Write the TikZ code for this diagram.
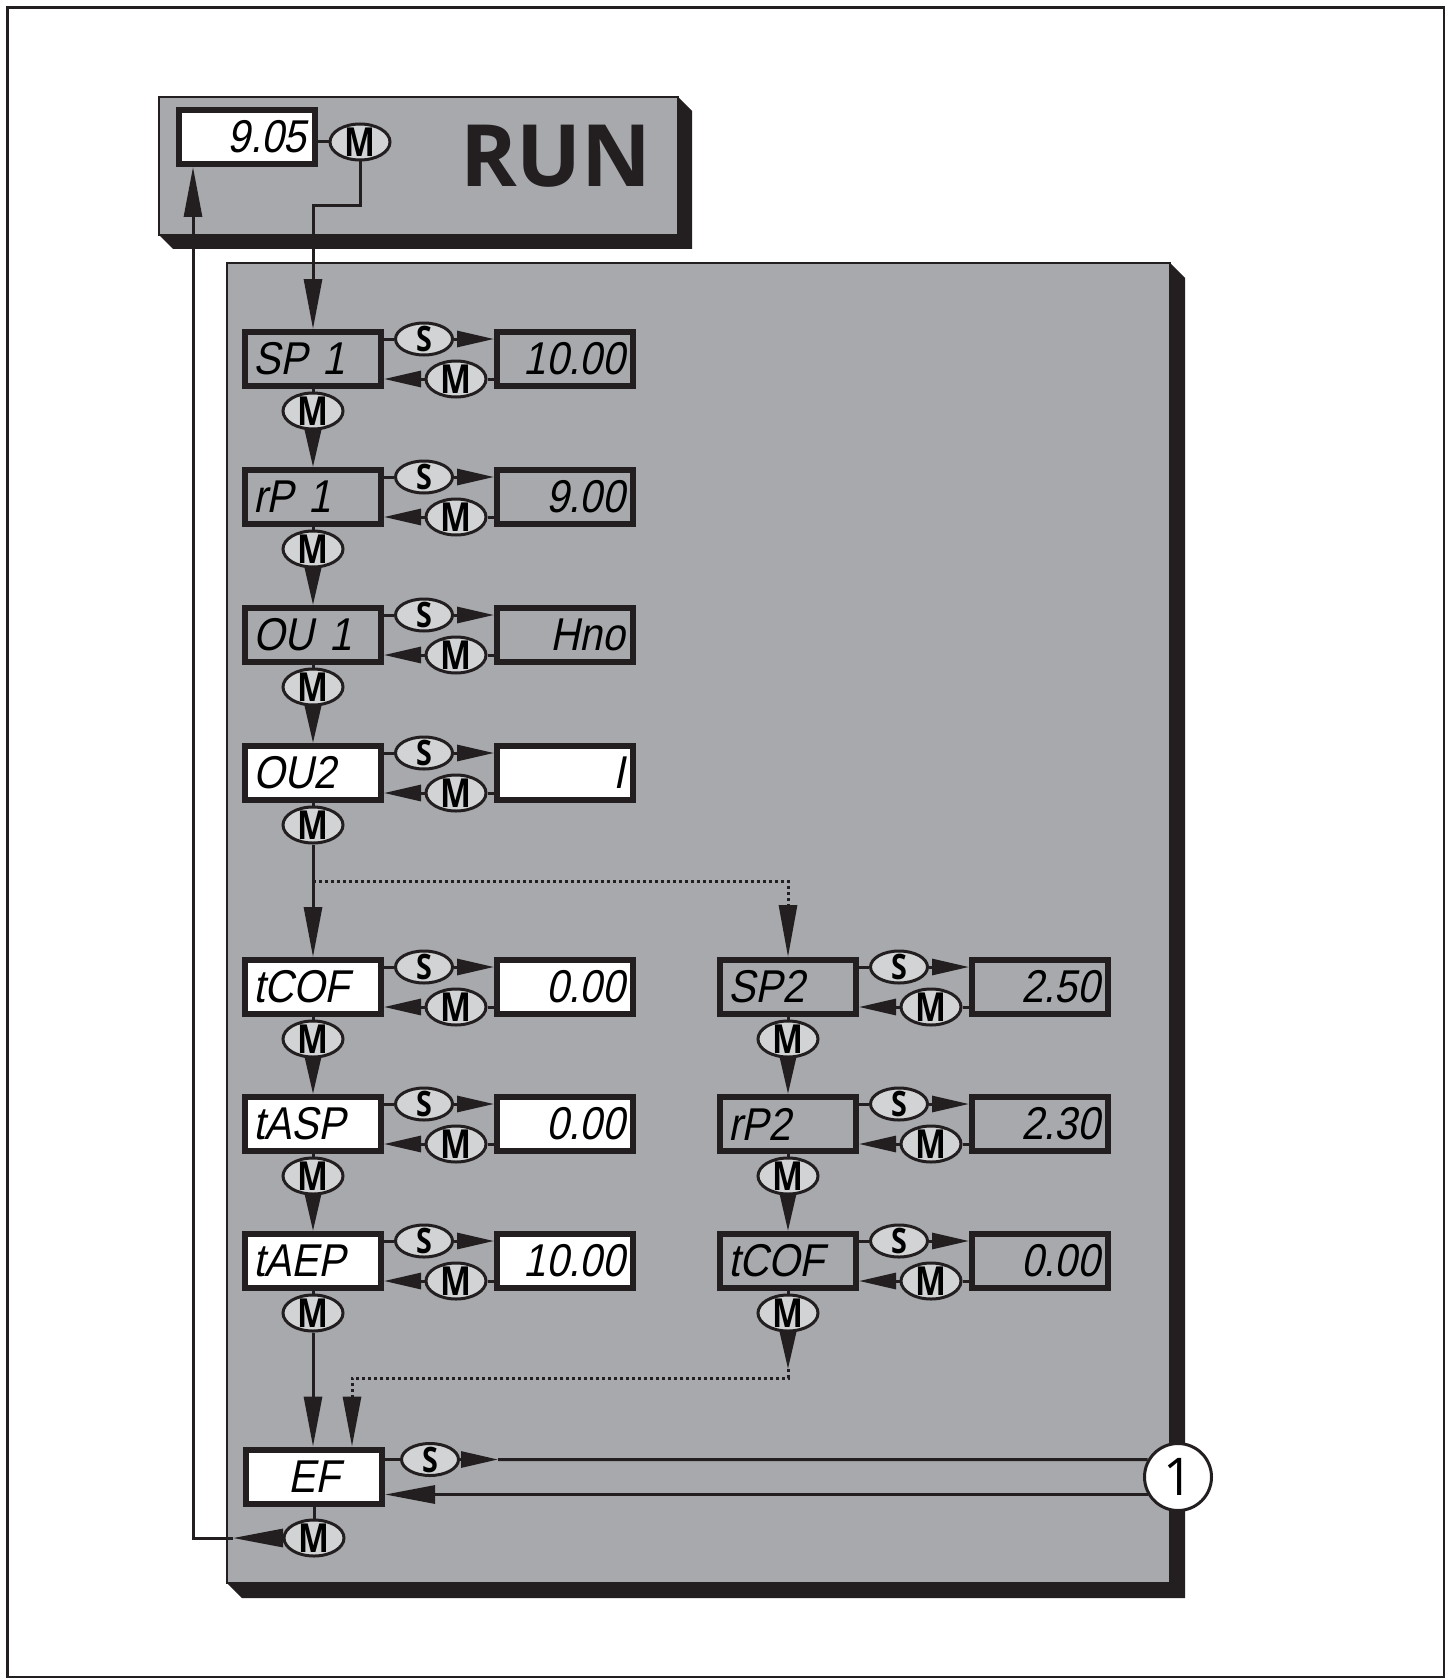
\documentclass[tikz,border=0pt]{standalone}
\usepackage{fontspec}
\setmainfont{Open Sans}
\newfontfamily\keyfont{Open Sans}[FakeStretch=0.82]
\newfontfamily\segfont{Liberation Sans}[FakeSlant=0.2,FakeStretch=0.88]
\usetikzlibrary{arrows.meta,shapes.geometric}
\definecolor{panel}{HTML}{A7A9AC}
\definecolor{keyfill}{HTML}{D1D3D4}
\definecolor{inkblack}{HTML}{231F20}

\begin{document}
\begin{tikzpicture}[x=1pt,y=-1pt,
    lcd/.style={draw=inkblack, line width=6pt, minimum width=136pt, minimum height=54pt,
        inner xsep=8pt, inner ysep=0pt, text width=120pt, font=\segfont\fontsize{46}{46}\selectfont},
    key/.style={ellipse, draw=inkblack, line width=3pt, fill=keyfill, inner sep=-4pt},
    mkey/.style={key, minimum width=60pt, minimum height=36pt, font=\keyfont\bfseries\fontsize{40}{40}\selectfont},
    skey/.style={key, minimum width=57pt, minimum height=32pt, font=\keyfont\bfseries\fontsize{35}{35}\selectfont},
    link/.style={draw=inkblack, line width=3pt},
    jet/.style={link, -{Triangle[length=37pt,width=16pt]}},
    bigjet/.style={link, -{Triangle[length=50pt,width=18pt]}},
    dots/.style={link, dash pattern=on 3pt off 3pt}]
    \useasboundingbox (0,0) rectangle (1450,1680);
    \draw[line width=2.5pt, draw=inkblack] (7.5,7.5) rectangle (1444,1677);

    % run mode box
    \fill[inkblack] (678,97) -- (692,111) -- (692,249) -- (173,249) -- (159,235) -- (678,235) -- cycle;
    \draw[line width=2pt, draw=inkblack, fill=panel] (159,97) rectangle (678,235);
    % menu panel
    \fill[inkblack] (1170,263) -- (1185,278) -- (1185,1598) -- (242,1598) -- (227,1583) -- (1170,1583) -- cycle;
    \draw[line width=2pt, draw=inkblack, fill=panel] (227,263) rectangle (1170,1583);

    \node[lcd, fill=white, align=right] (dsp) at (246.5,137) {9.05};
    \node[mkey] (rm) at (360,142) {M};
    \node[font=\bfseries\fontsize{86}{86}\selectfont, text=inkblack] (run) at (556,156) {RUN};

    \foreach \nm/\x/\y/\lab/\val/\kind in {
        sp1/313/359/SP~1/10.00/panel,
        rp1/313/497/rP~1/9.00/panel,
        ou1/313/635/OU~1/Hno/panel,
        ou2/313/773/OU2/I/white,
        tcof/313/987/tCOF/0.00/white,
        tasp/313/1124/tASP/0.00/white,
        taep/313/1261/tAEP/10.00/white,
        sp2/788/987/SP2/2.50/panel,
        rp2/788/1124/rP2/2.30/panel,
        tcof2/788/1261/tCOF/0.00/panel}
    {
        \node[lcd, fill=\kind, align=left] (\nm) at (\x,\y) {\lab};
        \node[lcd, fill=\kind, align=right] (\nm-v) at (\x+252,\y) {\val};
        \node[skey] (\nm-s) at (\x+111,\y-20) {S};
        \node[mkey] (\nm-m) at (\x+143,\y+20) {M};
        \node[mkey] (\nm-d) at (\x,\y+52) {M};
        \draw[link] (\nm.east |- \nm-s) -- (\nm-s.west);
        \draw[jet] (\nm-s.east) -- (\nm-s.east -| \nm-v.west);
        \draw[link] (\nm-v.west |- \nm-m) -- (\nm-m.east);
        \draw[jet] (\nm-m.west) -- (\nm-m.west -| \nm.east);
        \draw[link] (\nm.south) -- (\nm-d.north);
    }

    \node[lcd, fill=white, align=center] (ef) at (314,1476.5) {EF};
    \node[skey] (ef-s) at (430,1459.5) {S};
    \node[mkey] (ef-m) at (314,1538) {M};
    \node[circle, draw=inkblack, line width=3pt, fill=white, minimum size=67pt, inner sep=0pt,
        font=\fontsize{52}{52}\selectfont] (one) at (1178,1477) {1};

    \draw[link] (dsp.east |- rm) -- (rm.west);
    \coordinate (bend) at (313,206);
    \draw[bigjet] (rm.south) |- (bend) -- (sp1.north);

    \foreach \a/\b in {sp1/rp1, rp1/ou1, ou1/ou2, tcof/tasp, tasp/taep, sp2/rp2, rp2/tcof2}
        \draw[jet] (\a-d.south) -- (\b.north);

    \coordinate (split) at (313,881);
    \draw[bigjet] (ou2-d.south) -- (tcof.north);
    \draw[dots, -{Triangle[length=52pt,width=18pt]}] (split) -| (sp2.north);
    \draw[bigjet] (taep-d.south) -- (taep-d.south |- ef.north);
    \coordinate (dip) at (788,1369);
    \coordinate (drop) at (352,1378);
    \draw[jet] (tcof2-d.south) -- (dip);
    \draw[dots, -{Triangle[length=50pt,width=18pt]}] (dip) |- (drop) -- (drop |- ef.north);

    \draw[link] (ef.east |- ef-s) -- (ef-s.west);
    \coordinate (sx) at (498,1459.5);
    \draw[jet] (ef-s.east) -- (sx);
    \draw[link] (sx) -- (one.150);
    \draw[bigjet] (one.210) -- (one.210 -| ef.east);
    \draw[link] (ef.south) -- (ef-m.north);
    \coordinate (mx) at (233,1538);
    \coordinate (back) at (193,1538);
    \draw[bigjet] (ef-m.west) -- (mx);
    \draw[bigjet] (mx) -- (back) -- (back |- dsp.south);
\end{tikzpicture}
\end{document}
